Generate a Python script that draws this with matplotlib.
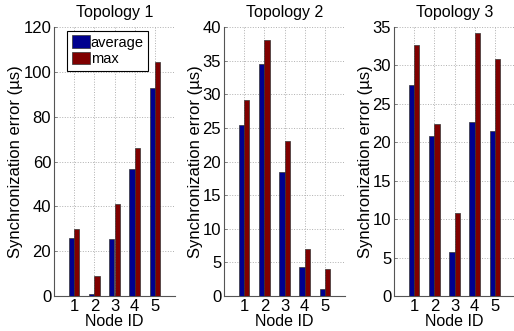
import matplotlib
matplotlib.use("Agg")
import matplotlib.pyplot as plt
import numpy as np

plt.rcParams['font.family'] = ['Liberation Sans', 'DejaVu Sans']

nodes = [1, 2, 3, 4, 5]
titles = ["Topology 1", "Topology 2", "Topology 3"]
avg_err = [
    [26.0, 1.0, 25.4, 56.5, 92.9],
    [25.5, 34.5, 18.5, 4.3, 1.1],
    [27.5, 20.8, 5.7, 22.6, 21.5],
]
max_err = [
    [30.0, 8.9, 41.0, 66.2, 104.2],
    [29.1, 38.0, 23.0, 7.0, 4.0],
    [32.6, 22.4, 10.8, 34.2, 30.8],
]
y_max = [120, 40, 35]
y_step = [20, 5, 5]

fig = plt.figure(figsize=(5.14, 3.31), dpi=100)
lefts = [54 / 514, 224 / 514, 394 / 514]
w = 121 / 514
bot = 35 / 331
h = 269 / 331

blue = '#00008f'
red = '#800000'
bw = 0.26
x = np.array(nodes)

for k in range(3):
    ax = fig.add_axes([lefts[k], bot, w, h])
    ax.bar(x - bw / 2, avg_err[k], bw, color=blue, edgecolor='#333333',
           linewidth=0.5, label='average', zorder=3)
    ax.bar(x + bw / 2, max_err[k], bw, color=red, edgecolor='#333333',
           linewidth=0.5, label='max', zorder=3)
    ax.set_xlim(0, 6)
    ax.set_ylim(0, y_max[k])
    ax.set_xticks(nodes)
    ax.set_yticks(np.arange(0, y_max[k] + 1, y_step[k]))
    ax.grid(True, linestyle=':', color='#b0b0b0', linewidth=0.7, zorder=0)
    for s in ['top', 'right']:
        ax.spines[s].set_visible(False)
    for s in ['left', 'bottom']:
        ax.spines[s].set_color('#555555')
        ax.spines[s].set_linewidth(0.8)
    ax.tick_params(direction='in', length=2, width=0.5, colors='#555555',
                   labelcolor='black', labelsize=12, pad=2)
    ax.set_title(titles[k], fontsize=11.5, pad=7)
    ax.set_xlabel('Node ID', fontsize=11.5, labelpad=0)
    ax.set_ylabel('Synchronization error (\u00b5s)', fontsize=12, labelpad=0)
    if k == 0:
        leg = ax.legend(loc='upper left', bbox_to_anchor=(0.11, 0.985),
                        fontsize=10.5, fancybox=False, framealpha=1,
                        edgecolor='black', handlelength=1.25, handleheight=0.95,
                        handletextpad=0.05, borderpad=0.3, labelspacing=0.15,
                        borderaxespad=0)
        leg.get_frame().set_linewidth(0.8)

fig.savefig('out.png', dpi=100)
